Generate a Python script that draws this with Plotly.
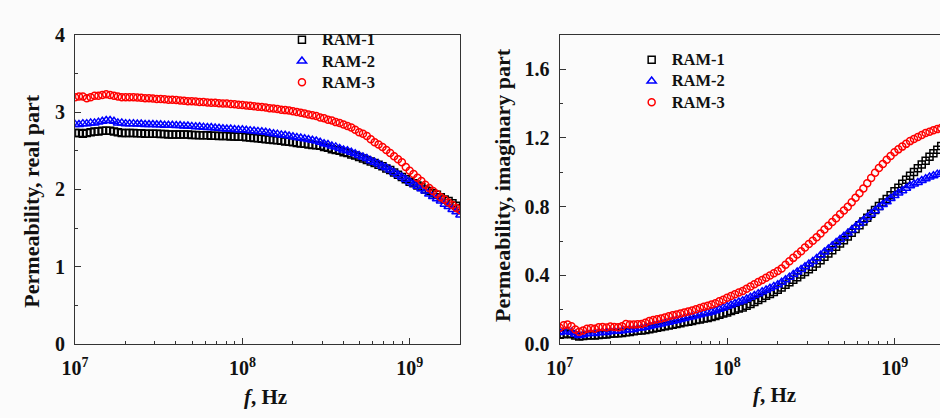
import numpy as np
import plotly.graph_objects as go

# Frequency sweep: 100 log-spaced points, 10 MHz .. 2 GHz
freq_hz = np.geomspace(1e7, 2e9, 100)

# Real part of permeability
real_ram1 = [2.73, 2.73, 2.72, 2.73, 2.74, 2.75, 2.75, 2.76, 2.76, 2.76,
             2.75, 2.74, 2.73, 2.73, 2.73, 2.73, 2.725, 2.725, 2.72, 2.72,
             2.72, 2.72, 2.715, 2.715, 2.71, 2.71, 2.71, 2.71, 2.71, 2.71,
             2.705, 2.705, 2.70, 2.70, 2.70, 2.695, 2.695, 2.69, 2.69, 2.69,
             2.685, 2.685, 2.68, 2.68, 2.675, 2.67, 2.665, 2.66, 2.655, 2.65,
             2.645, 2.64, 2.635, 2.63, 2.62, 2.615, 2.61, 2.60, 2.595, 2.59,
             2.58, 2.575, 2.57, 2.565, 2.55, 2.54, 2.52, 2.51, 2.50, 2.48,
             2.47, 2.45, 2.44, 2.42, 2.40, 2.38, 2.36, 2.34, 2.32, 2.30,
             2.27, 2.25, 2.22, 2.19, 2.16, 2.13, 2.10, 2.08, 2.05, 2.03,
             2.00, 1.98, 1.95, 1.93, 1.90, 1.87, 1.85, 1.82, 1.79, 1.76]

real_ram2 = [2.84, 2.84, 2.85, 2.85, 2.86, 2.86, 2.87, 2.88, 2.89, 2.89,
             2.88, 2.86, 2.86, 2.85, 2.85, 2.85, 2.845, 2.845, 2.84, 2.84,
             2.84, 2.835, 2.835, 2.83, 2.83, 2.83, 2.825, 2.825, 2.82, 2.82,
             2.815, 2.81, 2.81, 2.805, 2.80, 2.80, 2.795, 2.79, 2.785, 2.78,
             2.78, 2.775, 2.77, 2.77, 2.765, 2.76, 2.755, 2.75, 2.745, 2.74,
             2.73, 2.72, 2.715, 2.705, 2.70, 2.69, 2.68, 2.67, 2.665, 2.655,
             2.645, 2.635, 2.625, 2.61, 2.59, 2.58, 2.56, 2.55, 2.53, 2.51,
             2.50, 2.48, 2.46, 2.44, 2.42, 2.40, 2.37, 2.35, 2.33, 2.30,
             2.28, 2.25, 2.22, 2.19, 2.16, 2.13, 2.10, 2.07, 2.04, 2.01,
             1.98, 1.94, 1.91, 1.88, 1.85, 1.81, 1.78, 1.74, 1.71, 1.67]

real_ram3 = [3.19, 3.20, 3.20, 3.18, 3.19, 3.21, 3.21, 3.22, 3.23, 3.22,
             3.21, 3.20, 3.19, 3.19, 3.19, 3.19, 3.187, 3.185, 3.18, 3.18,
             3.175, 3.17, 3.17, 3.165, 3.16, 3.16, 3.155, 3.15, 3.145, 3.14,
             3.14, 3.135, 3.13, 3.13, 3.125, 3.12, 3.12, 3.115, 3.11, 3.11,
             3.105, 3.10, 3.095, 3.09, 3.085, 3.08, 3.075, 3.07, 3.065, 3.06,
             3.05, 3.045, 3.04, 3.03, 3.025, 3.02, 3.01, 3.00, 2.99, 2.98,
             2.97, 2.96, 2.95, 2.93, 2.92, 2.90, 2.89, 2.87, 2.86, 2.84,
             2.82, 2.80, 2.77, 2.74, 2.72, 2.69, 2.65, 2.61, 2.58, 2.55,
             2.51, 2.47, 2.43, 2.39, 2.35, 2.29, 2.24, 2.20, 2.15, 2.11,
             2.06, 2.02, 1.98, 1.94, 1.90, 1.87, 1.83, 1.80, 1.76, 1.73]

# Imaginary part of permeability
imag_ram1 = [0.055, 0.058, 0.062, 0.058, 0.050, 0.045, 0.047, 0.050, 0.052, 0.050,
             0.054, 0.057, 0.056, 0.060, 0.062, 0.063, 0.065, 0.069, 0.071, 0.075,
             0.078, 0.080, 0.083, 0.087, 0.091, 0.096, 0.100, 0.104, 0.108, 0.113,
             0.118, 0.122, 0.127, 0.131, 0.135, 0.140, 0.144, 0.149, 0.153, 0.158,
             0.164, 0.171, 0.178, 0.185, 0.193, 0.200, 0.207, 0.214, 0.223, 0.234,
             0.246, 0.257, 0.269, 0.281, 0.292, 0.304, 0.316, 0.330, 0.345, 0.360,
             0.375, 0.390, 0.405, 0.420, 0.436, 0.451, 0.469, 0.488, 0.508, 0.527,
             0.547, 0.566, 0.586, 0.605, 0.626, 0.648, 0.670, 0.692, 0.714, 0.736,
             0.758, 0.781, 0.803, 0.824, 0.845, 0.866, 0.889, 0.910, 0.933, 0.957,
             0.980, 1.002, 1.023, 1.045, 1.067, 1.090, 1.110, 1.131, 1.152, 1.170]

imag_ram2 = [0.068, 0.072, 0.076, 0.070, 0.058, 0.050, 0.055, 0.060, 0.064, 0.062,
             0.066, 0.070, 0.068, 0.074, 0.076, 0.075, 0.078, 0.083, 0.084, 0.086,
             0.092, 0.094, 0.098, 0.103, 0.108, 0.113, 0.118, 0.123, 0.128, 0.133,
             0.138, 0.144, 0.149, 0.155, 0.160, 0.166, 0.171, 0.177, 0.182, 0.187,
             0.194, 0.203, 0.211, 0.220, 0.228, 0.237, 0.245, 0.253, 0.263, 0.273,
             0.283, 0.294, 0.305, 0.315, 0.325, 0.336, 0.346, 0.360, 0.375, 0.390,
             0.405, 0.420, 0.435, 0.450, 0.466, 0.481, 0.499, 0.517, 0.536, 0.554,
             0.572, 0.591, 0.609, 0.628, 0.646, 0.664, 0.683, 0.702, 0.720, 0.739,
             0.757, 0.776, 0.795, 0.812, 0.829, 0.847, 0.864, 0.879, 0.893, 0.907,
             0.921, 0.931, 0.941, 0.952, 0.962, 0.972, 0.980, 0.989, 0.998, 1.005]

imag_ram3 = [0.096, 0.110, 0.114, 0.105, 0.085, 0.072, 0.080, 0.090, 0.093, 0.090,
             0.098, 0.100, 0.097, 0.103, 0.100, 0.098, 0.105, 0.118, 0.115, 0.114,
             0.116, 0.118, 0.125, 0.135, 0.140, 0.145, 0.150, 0.155, 0.162, 0.168,
             0.173, 0.178, 0.184, 0.190, 0.196, 0.203, 0.210, 0.217, 0.224, 0.231,
             0.238, 0.249, 0.259, 0.270, 0.280, 0.290, 0.300, 0.310, 0.323, 0.336,
             0.349, 0.361, 0.374, 0.387, 0.400, 0.412, 0.425, 0.440, 0.462, 0.482,
             0.502, 0.522, 0.540, 0.562, 0.582, 0.601, 0.622, 0.644, 0.667, 0.689,
             0.711, 0.733, 0.755, 0.777, 0.800, 0.826, 0.852, 0.878, 0.906, 0.936,
             0.966, 0.997, 1.025, 1.048, 1.072, 1.095, 1.116, 1.133, 1.149, 1.165,
             1.181, 1.193, 1.205, 1.217, 1.228, 1.236, 1.244, 1.251, 1.258, 1.265]

series_names = ["RAM-1", "RAM-2", "RAM-3"]
series_symbols = ["square-open", "triangle-up-open", "circle-open"]
series_colors = ["#000000", "#0000ff", "#ff0000"]
series_sizes = [7, 8, 7]
real_values = [real_ram1, real_ram2, real_ram3]
imag_values = [imag_ram1, imag_ram2, imag_ram3]

x_major = [1e7, 1e8, 1e9]
x_major_text = ["10<sup>7</sup>", "10<sup>8</sup>", "10<sup>9</sup>"]
x_minor = [m * d for d in (1e7, 1e8, 1e9) for m in range(2, 10) if m * d <= 2e9]

left_ticks = [0, 1, 2, 3, 4]
right_ticks = [0.0, 0.4, 0.8, 1.2, 1.6]
right_tick_text = ["0.0", "0.4", "0.8", "1.2", "1.6"]

W, H = 940, 418
FONT = "Liberation Serif"
BG = "#fbfbfb"
INK = "#111111"

fig = go.Figure()
for name, sym, col, size, re, im in zip(series_names, series_symbols, series_colors,
                                         series_sizes, real_values, imag_values):
    marker = dict(symbol=sym, size=size, color=col, line=dict(width=1.5, color=col))
    label = f"<span style='font-size:16.5px'>{name}</span>"
    fig.add_trace(go.Scatter(x=freq_hz, y=re, mode="markers", name=label, marker=marker,
                             xaxis="x", yaxis="y", legend="legend"))
    fig.add_trace(go.Scatter(x=freq_hz, y=im, mode="markers", name=label, marker=marker,
                             xaxis="x2", yaxis="y2", legend="legend2"))

tick_font = dict(family=FONT, size=20, color=INK, weight="bold")
axis_common = dict(showgrid=False, zeroline=False, showline=True, linecolor="#333333",
                   linewidth=1.4, ticks="inside", tickcolor="#333333", tickwidth=1.2,
                   tickfont=tick_font)
minor_x = dict(tickvals=x_minor, ticks="inside", ticklen=3, tickcolor="#333333", tickwidth=1.2)

y_dom = [1 - 351.7 / H, 1 - 25 / H]
legend_font = dict(family=FONT, size=14, color=INK, weight="bold")

fig.update_layout(
    width=W, height=H,
    margin=dict(l=0, r=0, t=0, b=0),
    paper_bgcolor=BG, plot_bgcolor=BG,
    showlegend=True,
    xaxis=dict(axis_common, type="log", domain=[62 / W, 453 / W], anchor="y",
               range=[7, np.log10(2e9)], tickvals=x_major, ticktext=x_major_text,
               ticklen=6, mirror=True, ticklabelstandoff=6, minor=minor_x),
    yaxis=dict(axis_common, domain=y_dom, anchor="x", range=[0, 4], tickvals=left_ticks,
               ticklen=6, mirror=True, ticklabelstandoff=5,
               minor=dict(dtick=0.5, ticks="inside", ticklen=3,
                          tickcolor="#333333", tickwidth=1.2)),
    xaxis2=dict(axis_common, type="log", domain=[554 / W, 1.0], anchor="y2",
                range=[7, 7 + (940 - 554) / 170], tickvals=x_major, ticktext=x_major_text,
                ticklen=6, mirror=True, ticklabelstandoff=6, minor=minor_x),
    yaxis2=dict(axis_common, domain=y_dom, anchor="x2", range=[0, 1.8],
                tickvals=right_ticks, ticktext=right_tick_text, ticklen=6,
                ticklabelstandoff=5,
                minor=dict(dtick=0.2, ticks="inside", ticklen=3,
                           tickcolor="#333333", tickwidth=1.2)),
    legend=dict(x=272 / W, y=1 - 14 / H, xanchor="left", yanchor="top",
                bgcolor="rgba(0,0,0,0)", tracegroupgap=0, font=legend_font),
    legend2=dict(x=627 / W, y=1 - 35 / H, xanchor="left", yanchor="top",
                 bgcolor="rgba(0,0,0,0)", tracegroupgap=0, font=legend_font),
)

title_font = dict(family=FONT, size=22, color=INK, weight="bold")
hz_font = dict(family=FONT, size=21, color=INK, weight="bold")
annotations = [
    dict(text="Permeability, real part", x=17.5 / W, y=1 - 201 / H, textangle=-90,
         font=title_font),
    dict(text="Permeability, imaginary part", x=496 / W, y=1 - 184 / H, textangle=-90,
         font=title_font),
    dict(text="<i>f</i>, Hz", x=255 / W, y=1 - 407 / H, font=hz_font),
    dict(text="<i>f</i>, Hz", x=772 / W, y=1 - 405 / H, font=hz_font),
]
for a in annotations:
    fig.add_annotation(xref="paper", yref="paper", showarrow=False,
                       xanchor="center", yanchor="middle", **a)

fig.write_html("out.html")
